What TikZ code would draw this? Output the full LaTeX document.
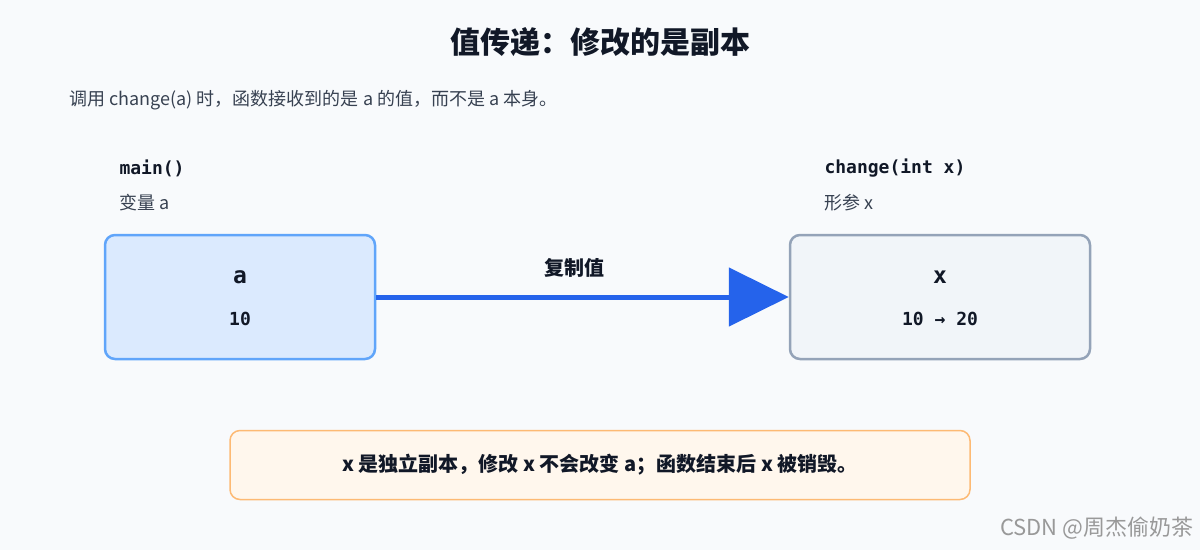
\documentclass[tikz,border=0pt]{standalone}
\usepackage{fontspec}
\setmainfont{Noto Sans CJK SC}
\setmonofont{DejaVu Sans Mono}
\usetikzlibrary{positioning,arrows.meta}
\definecolor{pagebg}{HTML}{F8FAFC}
\definecolor{inkdark}{HTML}{111827}
\definecolor{inkgray}{HTML}{374151}
\definecolor{bluefill}{HTML}{DBEAFE}
\definecolor{blueline}{HTML}{60A5FA}
\definecolor{arrowblue}{HTML}{2563EB}
\definecolor{slatefill}{HTML}{F1F5F9}
\definecolor{slateline}{HTML}{94A3B8}
\definecolor{notefill}{HTML}{FFF7ED}
\definecolor{noteline}{HTML}{FDBA74}
\begin{document}
\begin{tikzpicture}[x=1pt,y=-1pt,>=stealth]
        \tikzstyle{varbox}=[draw, rounded corners=10pt, line width=2.5pt, minimum width=270pt, minimum height=124pt]
        \tikzstyle{code}=[font=\ttfamily\bfseries\fontsize{18}{20}\selectfont, text=inkdark]
        \tikzstyle{small}=[font=\fontsize{18}{20}\selectfont, text=inkgray, anchor=west]
        % Page
        \fill[pagebg] (0,0) rectangle (1200,550);
        \useasboundingbox (0,0) rectangle (1200,550);

        % Title and subtitle
        \node[font=\bfseries\fontsize{30}{34}\selectfont, text=inkdark] (title) at (600,42) {值传递：修改的是副本};
        \node[small] (sub) at (66,100) {调用 change(a) 时，函数接收到的是 a 的值，而不是 a 本身。};

        % Caller side
        \node[code, anchor=west] (mainlbl) at (116,168) {main()};
        \node[small] (varlbl) at (116,203) {变量 a};
        \node[varbox, fill=bluefill, draw=blueline] (boxa) at (240,297) {};
        \node[code, font=\ttfamily\bfseries\fontsize{23}{26}\selectfont] (namea) at (240,277) {a};
        \node[code] (vala) at (240,319) {10};

        % Callee side
        \node[code, anchor=west] (chglbl) at (821,168) {change(int x)};
        \node[small] (parlbl) at (821,203) {形参 x};
        \node[varbox, fill=slatefill, draw=slateline, minimum width=300pt] (boxx) at (940,297) {};
        \node[code, font=\ttfamily\bfseries\fontsize{23}{26}\selectfont] (namex) at (940,277) {x};
        \node[code] (valx) at (940,319) {10 → 20};

        % Copy arrow
        \draw[arrowblue, line width=5pt, -{Triangle[length=60pt,width=58pt]}]
        (boxa.east) -- (boxx.west) node[pos=0.48, above=14pt, font=\bfseries\fontsize{20}{22}\selectfont, text=inkdark] (copylbl) {复制值};

        % Note
        \node[draw=noteline, fill=notefill, line width=1.5pt, rounded corners=10pt, minimum width=740pt, minimum height=69pt,
              font=\bfseries\fontsize{20}{22}\selectfont, text=inkdark] (note) at (600,465)
              {x 是独立副本，修改 x 不会改变 a；函数结束后 x 被销毁。};

        % Watermark
        \node[font=\fontsize{22}{24}\selectfont, text=black!40, anchor=east] (mark) at (1197,528) {CSDN @周杰偷奶茶};
    \end{tikzpicture}
\end{document}
